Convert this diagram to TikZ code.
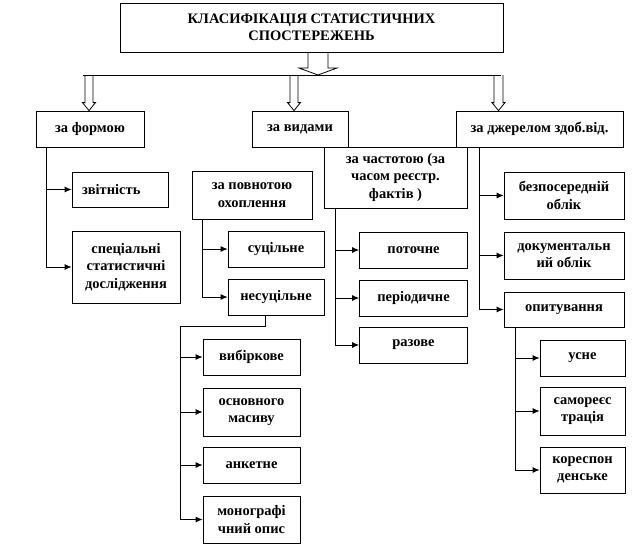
\documentclass[tikz,border=0pt]{standalone}
\usepackage{fontspec}
\setmainfont{Liberation Serif}
\usetikzlibrary{arrows.meta}
\usetikzlibrary{calc}

\begin{document}
\begin{tikzpicture}[x=1pt,y=-1pt,line width=0.8pt,
		box/.style={draw,align=center,inner sep=1pt,font=\fontsize{14.5}{17.5}\selectfont\bfseries},
		link/.style={-{Latex[length=7pt,width=6pt]}},
		hollow/.style n args={3}{to path={let \p1=(\tikztostart), \p2=(\tikztotarget) in
			(\x1-#1,\y1) -- (\x1-#1,\y2+#3) -- (\x1-#2,\y2+#3) -- (\x1,\y2)
			-- (\x1+#2,\y2+#3) -- (\x1+#1,\y2+#3) -- (\x1+#1,\y1)}}]
		\useasboundingbox (0,0) rectangle (636,546);

		% top level
		\node[box,minimum width=383,minimum height=49] (title) at (311.5,27.5) {КЛАСИФІКАЦІЯ СТАТИСТИЧНИХ\\СПОСТЕРЕЖЕНЬ};
		\node[box,minimum width=108,minimum height=36] (forma) at (90,129) {за формою};
		\node[box,minimum width=96,minimum height=36] (vydy) at (300,129) {за видами};
		\node[box,minimum width=167,minimum height=36] (dzherelo) at (539.5,129) {за джерелом здоб.від.};

		\coordinate (hub) at (318,75);
		\coordinate (busL) at (83,75);
		\coordinate (busR) at (501,75);
		\coordinate (b1) at (89,75);
		\coordinate (b2) at (294,75);
		\coordinate (b3) at (498.5,75);
		\draw[hollow={10pt}{19pt}{7pt}] (title.south -| hub) to (hub);
		\draw[hollow={4pt}{6.5pt}{8pt}] (b1) to (b1 |- forma.north);
		\draw[hollow={4pt}{6.5pt}{8pt}] (b2) to (b2 |- vydy.north);
		\draw[hollow={4.5pt}{6.5pt}{8pt}] (b3) to (b3 |- dzherelo.north);
		\draw (busL) -- (busR);

		% за формою
		\node[box,minimum width=96,minimum height=35,text width=76,align=left] (zvit) at (120,189.5) {звітність};
		\node[box,minimum width=108,minimum height=72] (spec) at (126,267) {спеціальні\\статистичні\\дослідження};
		\coordinate (t1) at ($(forma.south west)+(11,0)$);
		\draw[link] (t1) |- (zvit);
		\draw[link] (t1) |- (spec);

		% за повнотою охоплення
		\node[box,minimum width=120,minimum height=48] (povnota) at (252,195) {за повнотою\\охоплення};
		\node[box,minimum width=96,minimum height=36] (sucil) at (276,249) {суцільне};
		\node[box,minimum width=96,minimum height=36] (nesucil) at (276,297) {несуцільне};
		\coordinate (t2) at ($(povnota.south west)+(11,0)$);
		\draw[link] (t2) |- (sucil);
		\draw[link] (t2) |- (nesucil);

		\node[box,minimum width=97,minimum height=36] (vybirk) at (251.5,357) {вибіркове};
		\node[box,minimum width=97,minimum height=48] (osnov) at (251.5,412) {основного\\масиву};
		\node[box,minimum width=97,minimum height=36] (anket) at (251.5,465) {анкетне};
		\node[box,minimum width=97,minimum height=47] (monogr) at (251.5,519.5) {монографі\\чний опис};
		\coordinate (t3) at ($(nesucil.south)+(-11,0)$);
		\coordinate (kink) at (180,326);
		\draw (t3) |- (kink);
		\draw[link] (kink) |- (vybirk);
		\draw[link] (kink) |- (osnov);
		\draw[link] (kink) |- (anket);
		\draw[link] (kink) |- (monogr);

		% за частотою
		\node[box,minimum width=143,minimum height=61] (chastota) at (395.5,177.5) {за частотою (за\\часом реєстр.\\фактів )};
		\node[box,minimum width=108,minimum height=36] (potoch) at (413.5,250) {поточне};
		\node[box,minimum width=108,minimum height=36] (period) at (413.5,298) {періодичне};
		\node[box,minimum width=108,minimum height=36] (razove) at (413.5,345) {разове};
		\coordinate (t4) at ($(chastota.south west)+(12,0)$);
		\draw[link] (t4) |- (potoch);
		\draw[link] (t4) |- (period);
		\draw[link] (t4) |- (razove);

		% за джерелом
		\node[box,minimum width=120,minimum height=47] (bezpos) at (564,195.5) {безпосередній\\облік};
		\node[box,minimum width=120,minimum height=47] (docum) at (564,255.5) {документальн\\ий облік};
		\node[box,minimum width=120,minimum height=35] (opyt) at (564,309.5) {опитування};
		\coordinate (t5) at ($(dzherelo.south west)+(24,0)$);
		\draw[link] (t5) |- (bezpos);
		\draw[link] (t5) |- (docum);
		\draw[link] (t5) |- (opyt);

		\node[box,minimum width=85,minimum height=36] (usne) at (582.5,358) {усне};
		\node[box,minimum width=85,minimum height=48] (samor) at (582.5,411) {самореєс\\трація};
		\node[box,minimum width=85,minimum height=46] (koresp) at (582.5,470) {кореспон\\денське};
		\coordinate (t6) at ($(opyt.south west)+(12,0)$);
		\draw[link] (t6) |- (usne);
		\draw[link] (t6) |- (samor);
		\draw[link] (t6) |- (koresp);
\end{tikzpicture}
\end{document}
